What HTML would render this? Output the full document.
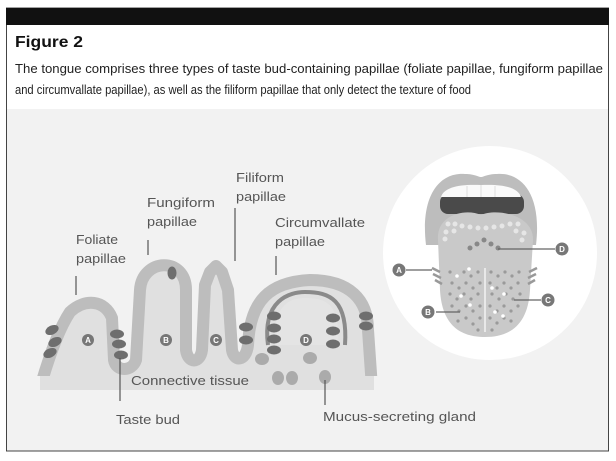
<!DOCTYPE html>
<html><head><meta charset="utf-8"><style>
html,body{margin:0;padding:0;background:#fff;width:616px;height:461px;overflow:hidden}
svg{display:block}
.t{font-family:"Liberation Sans",sans-serif;fill:#555;font-size:13px}
</style></head><body>
<svg width="616" height="461" viewBox="0 0 616 461" xmlns="http://www.w3.org/2000/svg">
<rect x="6.5" y="8" width="602" height="443" fill="#fff" stroke="#444" stroke-width="1"/>
<rect x="6" y="8" width="603" height="17" fill="#111"/>
<rect x="7" y="109" width="601" height="341.5" fill="#f2f2f2"/>
<text x="15" y="47" font-family="Liberation Sans,sans-serif" font-weight="bold" font-size="16" fill="#111" textLength="68" lengthAdjust="spacingAndGlyphs">Figure 2</text>
<text x="15" y="73" font-family="Liberation Sans,sans-serif" font-size="12.5" fill="#222" textLength="588" lengthAdjust="spacingAndGlyphs">The tongue comprises three types of taste bud-containing papillae (foliate papillae, fungiform papillae</text>
<text x="15" y="94" font-family="Liberation Sans,sans-serif" font-size="12.5" fill="#222" textLength="456" lengthAdjust="spacingAndGlyphs">and circumvallate papillae), as well as the filiform papillae that only detect the texture of food</text>

<!-- cross section -->
<path d="M40,388 C48,360 58,330 70,312 C85,298 105,300 112,318 L114,360 C116,372 132,372 136,360 L140,290 C142,258 186,256 186,290 L186,350 C188,364 200,364 202,350 L205,285 L210,272 L216,266 L222,272 L228,290 L232,350 C234,362 246,362 248,345 C250,300 270,282 310,280 C350,280 368,300 368,330 L372,388 Z" fill="#e0e0e0" stroke="#bdbdbd" stroke-width="12" stroke-linejoin="round"/>
<rect x="30" y="376" width="352" height="22" fill="#f2f2f2"/>
<rect x="40" y="376" width="334" height="14" fill="#e0e0e0"/>
<path d="M268,345 C262,300 290,292 305,292 C330,292 348,300 345,345" fill="none" stroke="#8a8a8a" stroke-width="4"/>
<path d="M275,345 C272,305 290,298 305,298 C328,298 340,305 338,345" fill="#e4e4e4" stroke="none"/>
<g fill="#6e6e6e">
<ellipse cx="52" cy="330" rx="7" ry="4.5" transform="rotate(-25 52 330)"/>
<ellipse cx="55" cy="342" rx="7" ry="4.5" transform="rotate(-25 55 342)"/>
<ellipse cx="50" cy="353" rx="7" ry="4.5" transform="rotate(-25 50 353)"/>
<ellipse cx="117" cy="334" rx="7" ry="4.5"/>
<ellipse cx="119" cy="344" rx="7" ry="4.5"/>
<ellipse cx="121" cy="355" rx="7" ry="4.5"/>
<ellipse cx="172" cy="273" rx="4.5" ry="6.5"/>
<ellipse cx="274" cy="316" rx="7" ry="4.5"/><ellipse cx="274" cy="328" rx="7" ry="4.5"/>
<ellipse cx="274" cy="339" rx="7" ry="4.5"/><ellipse cx="274" cy="350" rx="7" ry="4.5"/>
<ellipse cx="333" cy="318" rx="7" ry="4.5"/><ellipse cx="333" cy="331" rx="7" ry="4.5"/>
<ellipse cx="333" cy="344" rx="7" ry="4.5"/>
<ellipse cx="246" cy="327" rx="7" ry="4.5"/><ellipse cx="246" cy="340" rx="7" ry="4.5"/>
<ellipse cx="366" cy="316" rx="7" ry="4.5"/><ellipse cx="366" cy="326" rx="7" ry="4.5"/>
</g>
<g fill="#ababab">
<ellipse cx="262" cy="359" rx="7" ry="6"/><ellipse cx="278" cy="378" rx="6" ry="7"/>
<ellipse cx="292" cy="378" rx="6" ry="7"/><ellipse cx="310" cy="358" rx="7" ry="6"/>
<ellipse cx="325" cy="377" rx="6" ry="7"/>
</g>
<g fill="#777"><circle cx="88" cy="340" r="6"/><circle cx="166" cy="340" r="6"/><circle cx="216" cy="340" r="6"/><circle cx="306" cy="340" r="6"/></g>
<g font-family="Liberation Sans,sans-serif" font-size="8" font-weight="bold" fill="#fff" text-anchor="middle">
<text x="88" y="343">A</text><text x="166" y="343">B</text><text x="216" y="343">C</text><text x="306" y="343">D</text></g>
<g stroke="#555" stroke-width="1.2">
<line x1="76" y1="276" x2="76" y2="295"/><line x1="148" y1="240" x2="148" y2="255"/>
<line x1="235" y1="208" x2="235" y2="261"/><line x1="276" y1="256" x2="276" y2="275"/>
<line x1="120" y1="358" x2="120" y2="401"/><line x1="325" y1="380" x2="325" y2="405"/>
</g>
<text class="t" x="76" y="244" textLength="42" lengthAdjust="spacingAndGlyphs">Foliate</text><text class="t" x="76" y="263" textLength="50" lengthAdjust="spacingAndGlyphs">papillae</text>
<text class="t" x="147" y="207" textLength="68" lengthAdjust="spacingAndGlyphs">Fungiform</text><text class="t" x="147" y="226" textLength="50" lengthAdjust="spacingAndGlyphs">papillae</text>
<text class="t" x="236" y="182" textLength="48" lengthAdjust="spacingAndGlyphs">Filiform</text><text class="t" x="236" y="201" textLength="50" lengthAdjust="spacingAndGlyphs">papillae</text>
<text class="t" x="275" y="227" textLength="90" lengthAdjust="spacingAndGlyphs">Circumvallate</text><text class="t" x="275" y="246" textLength="50" lengthAdjust="spacingAndGlyphs">papillae</text>
<text class="t" x="131" y="385" textLength="118" lengthAdjust="spacingAndGlyphs">Connective tissue</text>
<text class="t" x="116" y="424" textLength="64" lengthAdjust="spacingAndGlyphs">Taste bud</text>
<text class="t" x="323" y="421" textLength="153" lengthAdjust="spacingAndGlyphs">Mucus-secreting gland</text>

<!-- tongue -->
<circle cx="490" cy="253" r="107" fill="#fff"/>
<path d="M426,245 C420,195 440,172 465,174 C475,174 478,177 481,177 C484,177 487,174 497,174 C522,172 542,195 536,245 Z" fill="#bdbdbd"/>
<rect x="440" y="194" width="84" height="20" rx="8" fill="#4a4a4a"/>
<path d="M441,197 C444,187 460,184 481,185 C502,184 518,187 521,197 Z" fill="#fafafa"/>
<g stroke="#ddd" stroke-width="1"><line x1="467" y1="186" x2="467" y2="197"/><line x1="481" y1="185" x2="481" y2="197"/><line x1="495" y1="186" x2="495" y2="197"/></g>
<path d="M438,240 C436,215 465,208 481,215 C497,208 534,215 533,240 L530,290 C528,325 510,337 485,337 C460,337 442,325 440,290 Z" fill="#c9c9c9"/>
<line x1="485" y1="268" x2="485" y2="332" stroke="#e8e8e8" stroke-width="2"/>
<g fill="#e6e6e6">
<circle cx="448" cy="224" r="2.5"/><circle cx="455" cy="224" r="2.5"/><circle cx="462" cy="226" r="2.5"/><circle cx="470" cy="227" r="2.5"/><circle cx="478" cy="228" r="2.5"/><circle cx="486" cy="228" r="2.5"/><circle cx="494" cy="227" r="2.5"/><circle cx="502" cy="226" r="2.5"/><circle cx="510" cy="224" r="2.5"/><circle cx="518" cy="224" r="2.5"/><circle cx="446" cy="232" r="2.5"/><circle cx="454" cy="231" r="2.5"/><circle cx="516" cy="231" r="2.5"/><circle cx="524" cy="233" r="2.5"/><circle cx="445" cy="239" r="2.5"/><circle cx="522" cy="240" r="2.5"/>
</g>
<g fill="#888"><circle cx="470" cy="248" r="2.5"/><circle cx="477" cy="244" r="2.5"/><circle cx="484" cy="240" r="2.5"/><circle cx="491" cy="244" r="2.5"/><circle cx="498" cy="248" r="2.5"/></g>
<g fill="#9a9a9a">
<circle cx="450" cy="272" r="1.6"/><circle cx="457" cy="276" r="1.6"/><circle cx="464" cy="272" r="1.6"/><circle cx="471" cy="276" r="1.6"/><circle cx="478" cy="272" r="1.6"/>
<circle cx="452" cy="283" r="1.6"/><circle cx="459" cy="288" r="1.6"/><circle cx="466" cy="283" r="1.6"/><circle cx="473" cy="288" r="1.6"/><circle cx="480" cy="283" r="1.6"/>
<circle cx="450" cy="294" r="1.6"/><circle cx="457" cy="299" r="1.6"/><circle cx="464" cy="294" r="1.6"/><circle cx="471" cy="299" r="1.6"/><circle cx="478" cy="294" r="1.6"/>
<circle cx="452" cy="306" r="1.6"/><circle cx="459" cy="311" r="1.6"/><circle cx="466" cy="306" r="1.6"/><circle cx="473" cy="311" r="1.6"/><circle cx="480" cy="306" r="1.6"/>
<circle cx="458" cy="321" r="1.6"/><circle cx="466" cy="318" r="1.6"/><circle cx="473" cy="324" r="1.6"/><circle cx="480" cy="318" r="1.6"/><circle cx="478" cy="330" r="1.6"/>
<circle cx="491" cy="272" r="1.6"/><circle cx="498" cy="276" r="1.6"/><circle cx="505" cy="272" r="1.6"/><circle cx="512" cy="276" r="1.6"/><circle cx="519" cy="272" r="1.6"/>
<circle cx="490" cy="283" r="1.6"/><circle cx="497" cy="288" r="1.6"/><circle cx="504" cy="283" r="1.6"/><circle cx="511" cy="288" r="1.6"/><circle cx="518" cy="283" r="1.6"/>
<circle cx="492" cy="294" r="1.6"/><circle cx="499" cy="299" r="1.6"/><circle cx="506" cy="294" r="1.6"/><circle cx="513" cy="299" r="1.6"/><circle cx="520" cy="294" r="1.6"/>
<circle cx="490" cy="306" r="1.6"/><circle cx="497" cy="311" r="1.6"/><circle cx="504" cy="306" r="1.6"/><circle cx="511" cy="311" r="1.6"/><circle cx="518" cy="306" r="1.6"/>
<circle cx="490" cy="318" r="1.6"/><circle cx="497" cy="323" r="1.6"/><circle cx="504" cy="318" r="1.6"/><circle cx="511" cy="321" r="1.6"/><circle cx="492" cy="330" r="1.6"/>
</g>
<g fill="#fff"><circle cx="469" cy="269" r="1.8"/><circle cx="457" cy="276" r="1.8"/><circle cx="461" cy="296" r="1.8"/><circle cx="470" cy="305" r="1.8"/><circle cx="492" cy="288" r="1.8"/><circle cx="504" cy="294" r="1.8"/><circle cx="495" cy="312" r="1.8"/><circle cx="503" cy="316" r="1.8"/></g>
<g stroke="#999" stroke-width="2.5"><line x1="432" y1="268" x2="440" y2="272"/><line x1="433" y1="274" x2="441" y2="278"/><line x1="435" y1="280" x2="442" y2="284"/><line x1="537" y1="268" x2="529" y2="272"/><line x1="536" y1="274" x2="528" y2="278"/><line x1="535" y1="280" x2="528" y2="284"/></g>
<g stroke="#666" stroke-width="1.3"><line x1="406" y1="270" x2="432" y2="270"/><line x1="436" y1="312" x2="460" y2="312"/><line x1="514" y1="300" x2="541" y2="300"/><line x1="498" y1="249" x2="555" y2="249"/></g>
<g fill="#777"><circle cx="399" cy="270" r="6.5"/><circle cx="428" cy="312" r="6.5"/><circle cx="548" cy="300" r="6.5"/><circle cx="562" cy="249" r="6.5"/></g>
<g font-family="Liberation Sans,sans-serif" font-size="8" font-weight="bold" fill="#fff" text-anchor="middle">
<text x="399" y="273">A</text><text x="428" y="315">B</text><text x="548" y="303">C</text><text x="562" y="252">D</text></g>
</svg>
</body></html>
